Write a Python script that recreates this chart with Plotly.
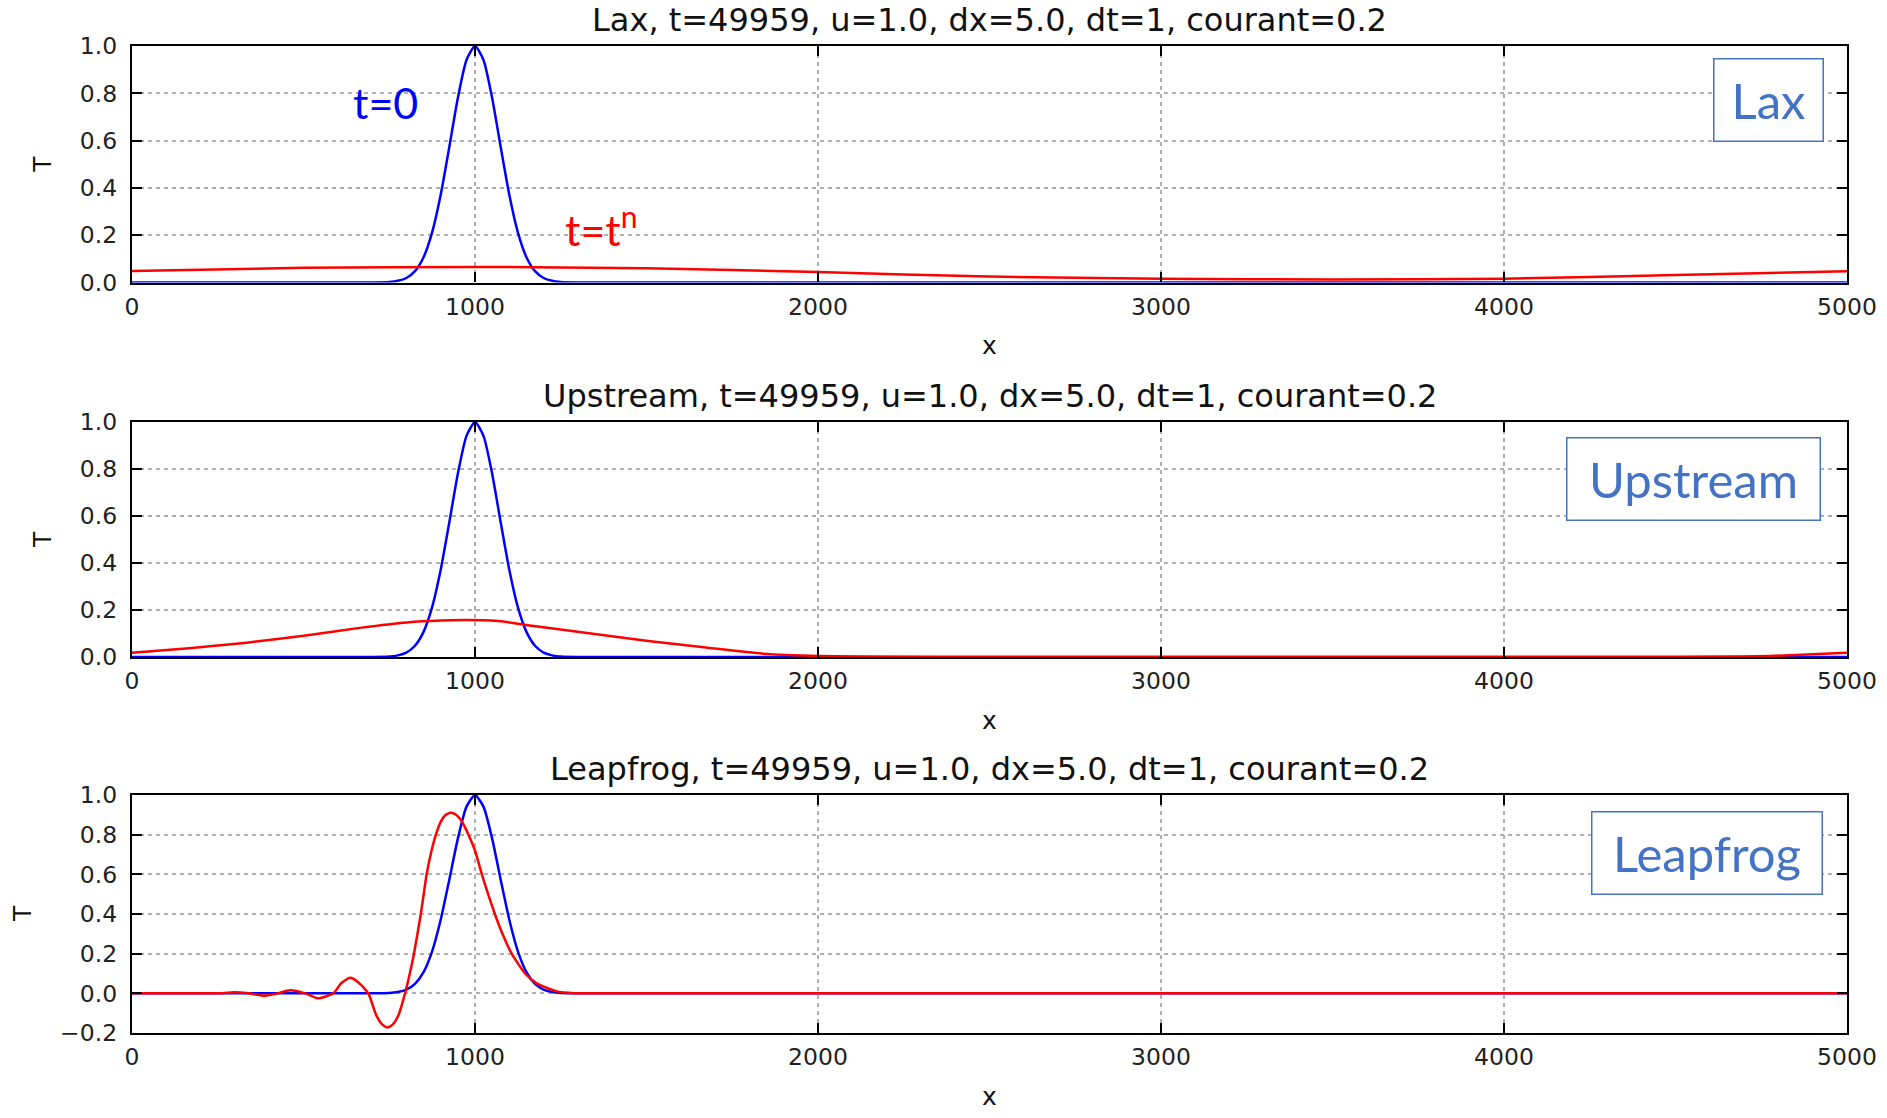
import plotly.graph_objects as go

W, H = 1887, 1118

# ---------------- data ----------------
x_init = [0, 600, 700, 750, 775, 800, 825, 850, 875, 900, 925, 950, 975, 1000,
          1025, 1050, 1075, 1100, 1125, 1150, 1175, 1200, 1225, 1250, 1300, 1400, 5000]
T_init = [0, 0, 0, 0.002, 0.007, 0.019, 0.048, 0.107, 0.212, 0.371, 0.572, 0.78, 0.94, 1.0,
          0.94, 0.78, 0.572, 0.371, 0.212, 0.107, 0.048, 0.019, 0.007, 0.002, 0, 0, 0]

x_lax = [0, 500, 1000, 1500, 2000, 2500, 3000, 3500, 4000, 4500, 5000]
T_lax = [0.049, 0.062, 0.066, 0.06, 0.044, 0.025, 0.016, 0.013, 0.016, 0.032, 0.048]

x_up = [0, 166, 334, 501, 669, 802, 900, 970, 1060, 1171, 1338, 1505, 1673, 1840,
        2007, 2200, 2500, 3000, 4000, 4500, 4700, 4850, 5000]
T_up = [0.018, 0.037, 0.061, 0.09, 0.125, 0.147, 0.155, 0.157, 0.154, 0.132, 0.1, 0.068,
        0.04, 0.014, 0.004, 0.001, 0, 0, 0, 0, 0.002, 0.008, 0.018]

x_leap = [0, 200, 250, 298, 340, 383, 425, 461, 505, 543, 587, 610, 636, 662, 689, 712, 730,
          745, 760, 778, 796, 810, 822, 842, 859, 872, 886, 900, 915, 929, 945, 962, 981,
          1000, 1020, 1058, 1080, 1107, 1146, 1180, 1238, 1290, 1350, 1500, 5000]
T_leap = [0, 0, 0, 0.005, 0, -0.012, 0, 0.015, 0, -0.025, 0, 0.051, 0.078, 0.052, 0, -0.11,
          -0.158, -0.172, -0.158, -0.105, 0, 0.1, 0.2, 0.4, 0.6, 0.71, 0.8, 0.865, 0.9,
          0.911, 0.9, 0.865, 0.8, 0.72, 0.6, 0.4, 0.3, 0.2, 0.1, 0.05, 0.01, 0.001, 0, 0, 0]

x_ticks = [0, 1000, 2000, 3000, 4000, 5000]

titles = ["Lax, t=49959, u=1.0, dx=5.0, dt=1, courant=0.2",
          "Upstream, t=49959, u=1.0, dx=5.0, dt=1, courant=0.2",
          "Leapfrog, t=49959, u=1.0, dx=5.0, dt=1, courant=0.2"]
schemes = ["Lax", "Upstream", "Leapfrog"]
red_x = [x_lax, x_up, x_leap]
red_T = [T_lax, T_up, T_leap]
y_ranges = [[0, 1.0], [0, 1.0], [-0.2, 1.0]]

# ---------------- layout geometry (pixels) ----------------
plot_left, plot_right = 132, 1847
plot_tops = [46, 422, 795]
plot_bots = [282.5, 657, 1033]
boxes = [(1713, 1824, 58, 142), (1566, 1821, 437, 521), (1591, 1823, 811, 895)]

FONT = "DejaVu Sans, sans-serif"
BLUE = "#0000ff"
RED = "#ff0000"
BOXBLUE = "#4472C4"

fig = go.Figure()
annotations = []

def px(xp):
    return xp / W

def py(yp):
    return 1 - yp / H

for i in range(3):
    xa = "x" if i == 0 else f"x{i+1}"
    ya = "y" if i == 0 else f"y{i+1}"
    fig.add_trace(go.Scatter(x=x_init, y=T_init, mode="lines", xaxis=xa, yaxis=ya,
                             line=dict(color=BLUE, width=2.5, shape="spline", smoothing=0.6),
                             showlegend=False, hoverinfo="skip"))
    fig.add_trace(go.Scatter(x=red_x[i], y=red_T[i], mode="lines", xaxis=xa, yaxis=ya,
                             line=dict(color=RED, width=2.5, shape="spline", smoothing=0.6),
                             showlegend=False, hoverinfo="skip"))

    axis_common = dict(showline=True, linecolor="black", linewidth=2.2, mirror="allticks",
                       ticks="inside", ticklen=10, tickwidth=1.5, tickcolor="black",
                       showgrid=True, gridcolor="#b0b0b0", gridwidth=1.5, griddash="4px,4px",
                       zeroline=False, automargin=False,
                       tickfont=dict(family=FONT, size=23.5, color="#222222"))
    xkey = "xaxis" if i == 0 else f"xaxis{i+1}"
    ykey = "yaxis" if i == 0 else f"yaxis{i+1}"
    fig.update_layout(**{
        xkey: dict(axis_common, domain=[px(plot_left), px(plot_right)], anchor=ya,
                   range=[0, 5000], tickmode="array", tickvals=x_ticks,
                   ticktext=[str(v) for v in x_ticks], ticklabelstandoff=2),
        ykey: dict(axis_common, domain=[py(plot_bots[i]), py(plot_tops[i])], anchor=xa,
                   range=y_ranges[i], dtick=0.2, tick0=0, tickformat=".1f",
                   ticklabelstandoff=8),
    })

    # subplot title
    annotations.append(dict(text=titles[i], xref="paper", yref="paper",
                            x=px((plot_left + plot_right) / 2), y=py(plot_tops[i] - 26),
                            xanchor="center", yanchor="middle", showarrow=False,
                            font=dict(family=FONT, size=32, color="#111111")))
    # axis titles
    annotations.append(dict(text="x", xref="paper", yref="paper",
                            x=px((plot_left + plot_right) / 2), y=py(plot_bots[i] + 63),
                            xanchor="center", yanchor="middle", showarrow=False,
                            font=dict(family=FONT, size=25, color="#111111")))
    annotations.append(dict(text="T", xref="paper", yref="paper",
                            x=px(42.5 if i < 2 else 22), y=py((plot_tops[i] + plot_bots[i]) / 2),
                            xanchor="center", yanchor="middle", textangle=-90, showarrow=False,
                            font=dict(family=FONT, size=25, color="#111111")))
    # scheme label box
    bx0, bx1, by0, by1 = boxes[i]
    annotations.append(dict(text=schemes[i], xref="paper", yref="paper",
                            x=px(bx1), y=py(by0), xanchor="right", yanchor="top",
                            width=bx1 - bx0 - 3, height=by1 - by0 - 3,
                            bordercolor=BOXBLUE, borderwidth=1.5, borderpad=0,
                            bgcolor="white", align="center", valign="middle",
                            showarrow=False,
                            font=dict(family="Lato, Carlito, sans-serif", size=49, color=BOXBLUE)))

annotations.append(dict(text="t=0", xref="paper", yref="paper", x=px(385), y=py(103),
                        xanchor="center", yanchor="middle", showarrow=False,
                        font=dict(family="Lato, sans-serif", size=43, color=BLUE)))
annotations.append(dict(text="t=t<sup>n</sup>", xref="paper", yref="paper", x=px(563), y=py(226),
                        xanchor="left", yanchor="middle", showarrow=False,
                        font=dict(family="Lato, sans-serif", size=43, color=RED)))

fig.update_layout(width=W, height=H,
                  margin=dict(l=0, r=0, t=0, b=0, pad=0, autoexpand=False),
                  paper_bgcolor="white", plot_bgcolor="white",
                  annotations=annotations, showlegend=False)

fig.write_html("out.html")
